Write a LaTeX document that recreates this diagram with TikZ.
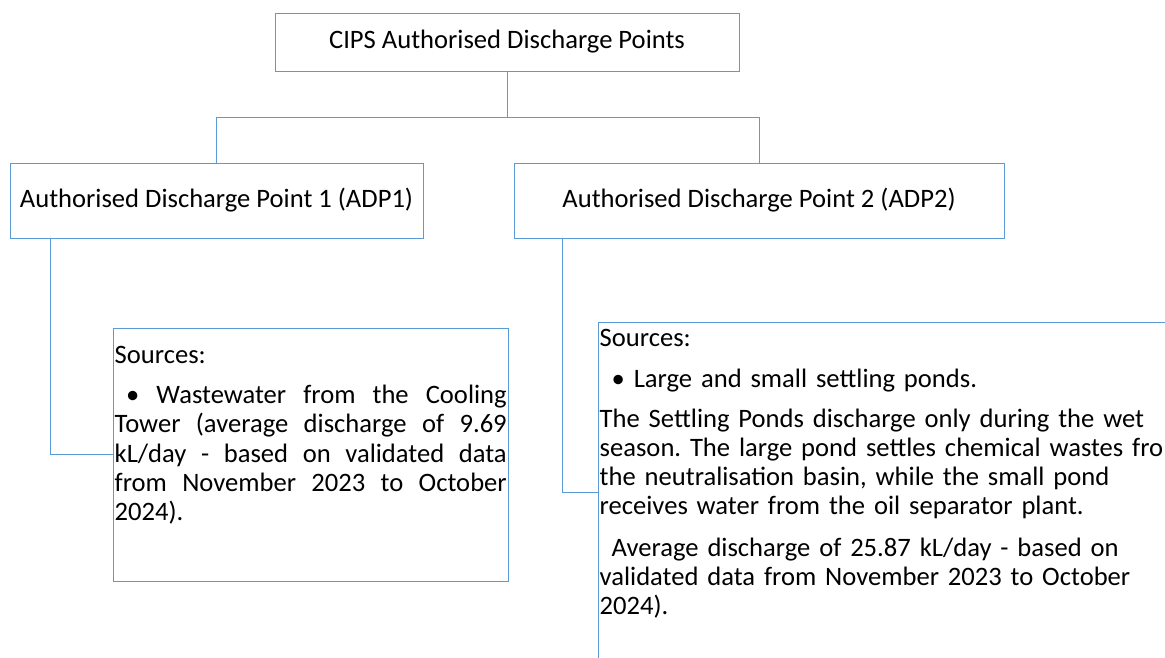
\documentclass[tikz,border=0pt]{standalone}
\usepackage{fontspec}
\setmainfont{Carlito}
\usepackage{xcolor}
\definecolor{lineblue}{RGB}{91,155,213}
\frenchspacing

\begin{document}
\begin{tikzpicture}[x=1pt, y=-1pt,
    every node/.style={font=\fontsize{26.6}{29.3}\selectfont},
    box/.style={draw=lineblue, line width=1pt, inner sep=0pt, align=center},
    srctext/.style={inner sep=0pt, anchor=base west, text width=#1},
    link/.style={draw=lineblue, line width=1pt}]
    \clip (0,0) rectangle (1165,657);

    \node[box, minimum width=464pt, minimum height=58pt] (cips) at (507,42) {CIPS Authorised Discharge Points};
    \node[box, minimum width=413pt, minimum height=75pt] (adp1) at (216.5,200.5) {Authorised Discharge Point 1 (ADP1)};
    \node[box, minimum width=490pt, minimum height=75pt] (adp2) at (759,200.5) {Authorised Discharge Point 2 (ADP2)};
    \node[box, minimum width=395pt, minimum height=253pt] (src1) at (310.5,454.5) {};
    \node[box, minimum width=582pt, minimum height=340pt] (src2) at (889,492) {};

    \node[srctext=392pt, align=justify] (src1txt) at ([shift={(2,36)}]src1.north west) {\sloppy Sources:\\[10.7pt]
    \hspace*{11.5pt}• Wastewater from the Cooling\linebreak Tower (average discharge of 9.69\linebreak kL/day - based on validated data\linebreak from November 2023 to October\linebreak 2024).};
    \node[srctext=600pt, align=left, font=\fontsize{26.6}{29}\selectfont] (src2txt) at ([shift={(2,25)}]src2.north west) {Sources:\\[12pt]
    \hspace*{12pt}• Large and small settling ponds.\\[11pt]
    The Settling Ponds discharge only during the wet\\
    season. The large pond settles chemical wastes from\\
    the neutralisation basin, while the small pond\\
    receives water from the oil separator plant.\\[13pt]
    \hspace*{12pt}Average discharge of 25.87 kL/day - based on\\
    validated data from November 2023 to October\\
    2024).};

    \draw[link] (cips.south) -- ++(0,46) -| (adp1.north);
    \draw[link] (cips.south) -- ++(0,46) -| (adp2.north);
    \draw[link] ([xshift=41pt]adp1.south west) |- (src1.west);
    \draw[link] ([xshift=49pt]adp2.south west) |- (src2.west);
\end{tikzpicture}
\end{document}
